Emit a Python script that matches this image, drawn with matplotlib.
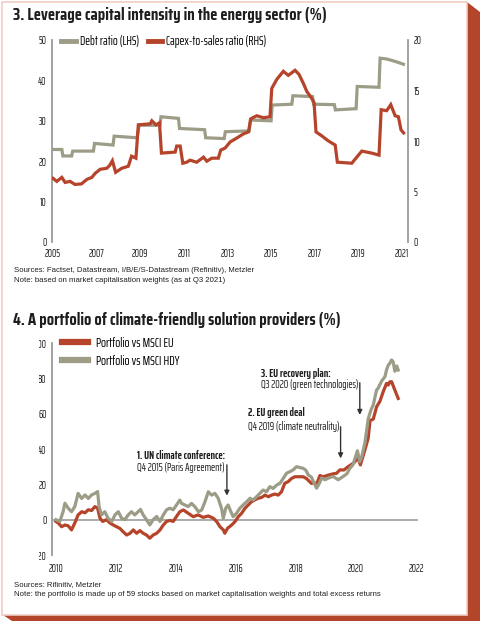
import matplotlib
matplotlib.use('Agg')
import matplotlib.pyplot as plt
from matplotlib.lines import Line2D
from matplotlib.patches import Polygon, Rectangle
from matplotlib.transforms import Bbox, TransformedBbox

# ---------------- data: chart 3 ----------------
debt_years = [2005.0, 2005.4, 2005.45, 2005.85, 2005.9, 2006.85, 2006.9, 2007.75, 2007.8, 2008.85,
              2008.95, 2009.9, 2009.95, 2010.75, 2010.8, 2011.95, 2012.0, 2012.85, 2012.9, 2014.0,
              2014.05, 2015.0, 2015.05, 2015.95, 2016.0, 2016.9, 2016.95, 2017.9, 2017.95, 2018.9,
              2018.95, 2019.95, 2020.0, 2020.3, 2020.5, 2020.75, 2021.07]
debt_ratio = [22.9, 22.9, 21.3, 21.3, 22.5, 22.5, 24.4, 24.0, 26.2, 25.8,
              28.9, 28.9, 31.0, 30.6, 28.1, 27.8, 25.8, 25.6, 27.3, 27.5,
              30.2, 30.0, 33.9, 34.1, 36.2, 36.0, 34.1, 34.0, 32.7, 33.0,
              38.5, 38.3, 45.5, 45.3, 45.0, 44.6, 44.0]

capex_years = [2005.0, 2005.17, 2005.4, 2005.55, 2005.78, 2006.0, 2006.3, 2006.55, 2006.78, 2006.93,
               2007.16, 2007.46, 2007.6, 2007.72, 2007.87, 2008.15, 2008.45, 2008.6, 2008.8, 2008.91,
               2009.45, 2009.53, 2009.72, 2009.88, 2009.97, 2010.6, 2010.67, 2010.83, 2010.95, 2011.13,
               2011.28, 2011.59, 2011.9, 2012.05, 2012.28, 2012.58, 2012.69, 2012.89, 2013.12, 2013.43,
               2013.73, 2013.96, 2014.07, 2014.34, 2014.65, 2014.95, 2015.03, 2015.26, 2015.56, 2015.79,
               2016.1, 2016.28, 2016.48, 2016.64, 2016.84, 2016.97, 2017.06, 2017.33, 2017.63, 2017.94,
               2018.04, 2018.7, 2018.93, 2019.16, 2019.62, 2019.95, 2020.05, 2020.3, 2020.49, 2020.69,
               2020.84, 2020.96, 2021.08]
capex_ratio = [6.3, 6.0, 6.4, 5.9, 6.0, 5.7, 5.75, 6.2, 6.4, 6.8,
               7.2, 7.3, 7.6, 8.05, 6.9, 7.3, 7.5, 8.5, 8.3, 11.6,
               11.7, 12.0, 11.6, 11.8, 8.8, 8.9, 9.5, 9.5, 7.8, 7.9,
               8.1, 7.9, 8.4, 8.0, 8.3, 8.3, 9.1, 9.3, 9.9, 10.3,
               10.7, 10.9, 12.2, 12.5, 12.3, 12.4, 15.2, 16.1, 16.9, 16.5,
               17.0, 16.6, 15.7, 14.9, 14.3, 13.8, 10.9, 10.5, 10.0, 9.6,
               7.9, 7.8, 8.4, 9.0, 8.8, 8.6, 13.1, 13.0, 13.6, 12.5,
               12.4, 11.1, 10.8]

x_ticks_top = [2005, 2007, 2009, 2011, 2013, 2015, 2017, 2019, 2021]
y_ticks_lhs = [0, 10, 20, 30, 40, 50]
y_ticks_rhs = [0, 5, 10, 15, 20]

# ---------------- data: chart 4 ----------------
hdy_years = [2010.00, 2010.13, 2010.24, 2010.30, 2010.41, 2010.52, 2010.63, 2010.74, 2010.86, 2010.97,
             2011.08, 2011.19, 2011.30, 2011.39, 2011.44, 2011.52, 2011.63, 2011.74, 2011.86, 2011.97,
             2012.08, 2012.19, 2012.30, 2012.41, 2012.52, 2012.63, 2012.74, 2012.82, 2012.91, 2013.02,
             2013.13, 2013.24, 2013.36, 2013.47, 2013.58, 2013.69, 2013.80, 2013.91, 2014.02, 2014.13,
             2014.19, 2014.30, 2014.41, 2014.52, 2014.63, 2014.75, 2014.86, 2014.97, 2015.08, 2015.19,
             2015.30, 2015.41, 2015.52, 2015.58, 2015.66, 2015.74, 2015.83, 2015.91, 2016.02, 2016.13,
             2016.24, 2016.36, 2016.47, 2016.58, 2016.69, 2016.80, 2016.91, 2017.02, 2017.13, 2017.24,
             2017.36, 2017.47, 2017.58, 2017.69, 2017.80, 2017.91, 2018.02, 2018.13, 2018.24, 2018.33,
             2018.41, 2018.52, 2018.60, 2018.69, 2018.78, 2018.86, 2018.97, 2019.08, 2019.24, 2019.41,
             2019.58, 2019.70, 2019.80, 2019.90, 2019.97, 2020.05, 2020.13, 2020.20, 2020.30, 2020.41,
             2020.50, 2020.58, 2020.69, 2020.74, 2020.86, 2020.97, 2021.02, 2021.08, 2021.13, 2021.19,
             2021.24, 2021.30, 2021.36, 2021.41]
hdy_values = [0, -1, 4.5, 9.3, 6.5, 4.5, 7.4, 14.9, 12, 14,
              12, 14, 14.9, 15.9, 7.4, 2.7, 4.5, 0.8, -1, 2.7,
              4.5, 0.8, 0, 2.7, 4.5, 2.7, 4.5, 5.8, 2.7, 0,
              -3, 0, 1.8, -1, 2.7, 5.6, 6.5, 5.6, 8.3, 11.1,
              9.2, 8.3, 7.4, 9.2, 7.4, 4.5, 5.5, 10.2, 15.8, 13.9,
              14.9, 12.1, 6.4, 0.8, 6.4, 8.3, 4.6, 1.7, 3.6, 6.4,
              8.3, 10.2, 12.1, 11.2, 13.0, 14.9, 16.8, 15.8, 18.7, 17.7,
              19.6, 20.6, 23.4, 26.3, 27.2, 28.2, 30.0, 29.5, 29.1, 28.0,
              25.4, 24.0, 21.0, 17.8, 20.5, 23.6, 22.6, 23.5, 24.5, 22.6,
              24.5, 26.0, 29.1, 31.0, 34.7, 39.0, 32.8, 36.0, 43.5, 57.0,
              62.0, 65.0, 73.4, 74.4, 78.5, 81.0, 84.7, 87.5, 88.5, 90.4,
              89.4, 84.0, 87.0, 84.7]

eu_years = [2010.00, 2010.08, 2010.19, 2010.30, 2010.41, 2010.52, 2010.63, 2010.74, 2010.86, 2010.97,
            2011.08, 2011.19, 2011.30, 2011.39, 2011.47, 2011.56, 2011.69, 2011.80, 2011.91, 2012.02,
            2012.13, 2012.24, 2012.36, 2012.47, 2012.58, 2012.69, 2012.80, 2012.91, 2013.02, 2013.13,
            2013.24, 2013.36, 2013.47, 2013.58, 2013.69, 2013.80, 2013.91, 2014.02, 2014.13, 2014.25,
            2014.41, 2014.58, 2014.74, 2014.91, 2015.08, 2015.25, 2015.36, 2015.47, 2015.58, 2015.63,
            2015.72, 2015.86, 2015.97, 2016.08, 2016.19, 2016.30, 2016.41, 2016.52, 2016.63, 2016.74,
            2016.86, 2016.97, 2017.08, 2017.19, 2017.30, 2017.41, 2017.52, 2017.63, 2017.74, 2017.86,
            2017.97, 2018.08, 2018.24, 2018.35, 2018.52, 2018.60, 2018.69, 2018.80, 2018.91, 2019.10,
            2019.25, 2019.35, 2019.47, 2019.60, 2019.74, 2019.91, 2020.08, 2020.15, 2020.30, 2020.41,
            2020.47, 2020.58, 2020.69, 2020.80, 2020.91, 2021.02, 2021.08, 2021.13, 2021.19, 2021.30,
            2021.41]
eu_values = [-1, -1.9, -4, -3, -3.5, -5.8, -1.9, 2.7, 4.5, 3.9,
             5.6, 5.2, 7.4, 6.5, 0.8, -1, 0, -1.9, -3, -4,
             -4.9, -6.8, -8.7, -7.7, -5.8, -7.7, -6.2, -7.7, -8.7, -10.5,
             -8.7, -7.7, -5.8, -3, -1, -0.4, -1, 1.8, 4.5, 5.5,
             3.6, 1.7, 2.7, 1.3, 2.1, 0.8, -1.1, -4, -5.8, -7.7,
             -4.9, -3, -1.1, 1.7, 3.6, 6.4, 8.3, 10.2, 11.2, 12.1,
             12.6, 13.9, 13.0, 13.9, 14.5, 13.9, 15.8, 20.6, 21.5, 23.4,
             24.3, 24.3, 24.3, 23.3, 20.5, 21.0, 20.1, 25.0, 24.3, 25.3,
             26.0, 26.2, 28.2, 28.1, 30.0, 31.9, 34.7, 31.0, 39.5, 46.1,
             56.0, 57.0, 63.9, 67.0, 72.4, 77.1, 76.2, 78.0, 78.1, 73.3,
             68.6]

x_ticks_bot = [2010, 2012, 2014, 2016, 2018, 2020, 2022]
y_ticks_bot = [-20, 0, 20, 40, 60, 80, 100]

# ---------------- styling ----------------
W, H = 480, 622
RED = '#b5442a'
GREY = '#9d9c87'
SPINE = '#9a9a9a'
TXT = '#1e1e1e'
COND = ['Saira Condensed', 'Liberation Sans Narrow', 'DejaVu Sans']
XCOND = ['Saira ExtraCondensed', 'Saira Condensed', 'DejaVu Sans']
PLAIN = ['Liberation Sans', 'DejaVu Sans']
TICK = 7.6


def fx(x):
    return x / W


def fy(y):
    return 1 - y / H


fig = plt.figure(figsize=(W / 100, H / 100), dpi=100)
fig.patch.set_facecolor('white')

# frame with a red "3D" shadow
shadow = Polygon([(fx(467), fy(2)), (fx(480), fy(12)), (fx(480), fy(621)),
                  (fx(12), fy(621)), (fx(3), fy(615))],
                 closed=True, transform=fig.transFigure, facecolor='#b3452b',
                 edgecolor='none', zorder=-3)
panel = Rectangle((fx(2), fy(615)), fx(465), 613 / H, transform=fig.transFigure,
                  facecolor='white', edgecolor='#f1cdc6', lw=1.2, zorder=-2)
fig.add_artist(shadow)
fig.add_artist(panel)

# ---------------- chart 3 ----------------
fig.text(fx(13), fy(15), '3. Leverage capital intensity in the energy sector (%)',
         family=COND, fontweight='bold', fontsize=12, color=TXT, va='center', ha='left')

ax1 = fig.add_axes([fx(52), fy(242), fx(356), 202 / H])
ax1.set_facecolor('none')
ax1.plot(debt_years, debt_ratio, color=GREY, lw=2.3, solid_joinstyle='miter')
ax1.set_xlim(2004.95, 2021.28)
ax1.set_ylim(0, 50)
ax1.set_xticks(x_ticks_top)
ax1.set_yticks(y_ticks_lhs)
for s in ['top', 'bottom', 'right']:
    ax1.spines[s].set_visible(False)
ax1.spines['left'].set_color(SPINE)
ax1.spines['left'].set_linewidth(1.3)
ax1.tick_params(axis='both', length=0, labelsize=TICK, colors=TXT)
ax1.tick_params(axis='y', pad=4)
ax1.tick_params(axis='x', pad=4)
for lab in ax1.get_xticklabels() + ax1.get_yticklabels():
    lab.set_family(XCOND)

ax2 = ax1.twinx()
ax2.plot(capex_years, capex_ratio, color=RED, lw=2.3, solid_joinstyle='miter')
ax2.set_ylim(0, 20)
ax2.set_yticks(y_ticks_rhs)
for s in ['top', 'bottom', 'left']:
    ax2.spines[s].set_visible(False)
ax2.spines['right'].set_color(SPINE)
ax2.spines['right'].set_linewidth(1.3)
ax2.tick_params(axis='y', length=0, labelsize=TICK, colors=TXT, pad=4)
for lab in ax2.get_yticklabels():
    lab.set_family(XCOND)

ax2.legend(handles=[Line2D([], [], color=GREY, lw=3.5), Line2D([], [], color=RED, lw=3.5)],
           labels=['Debt ratio (LHS)', 'Capex-to-sales ratio (RHS)'],
           loc='upper left', bbox_to_anchor=(fx(61), fy(35)), bbox_transform=fig.transFigure,
           ncol=2, frameon=False, handlelength=1.15, handletextpad=0.3, columnspacing=0.7,
           borderpad=0, borderaxespad=0, prop={'family': XCOND, 'size': 9.2})

fig.text(fx(14), fy(271), 'Sources: Factset, Datastream, I/B/E/S-Datastream (Refinitiv), Metzler',
         family=PLAIN, fontsize=5.6, color=TXT, va='center')
fig.text(fx(14), fy(280.5), 'Note: based on market capitalisation weights (as at Q3 2021)',
         family=PLAIN, fontsize=5.6, color=TXT, va='center')

# ---------------- chart 4 ----------------
fig.text(fx(13), fy(320), '4. A portfolio of climate-friendly solution providers (%)',
         family=COND, fontweight='bold', fontsize=12, color=TXT, va='center', ha='left')

ax3 = fig.add_axes([fx(52), fy(555), fx(366), 212 / H])
ax3.set_facecolor('none')
ax3.axhline(0, color='#aaaaaa', lw=1.4, zorder=1)
ax3.plot(eu_years, eu_values, color=RED, lw=2.3, zorder=2)
ax3.plot(hdy_years, hdy_values, color=GREY, lw=2.3, zorder=3)
ax3.set_xlim(2009.87, 2022.07)
ax3.set_ylim(-20, 100)
ax3.set_xticks(x_ticks_bot)
ax3.set_yticks(y_ticks_bot)
for s in ['top', 'bottom', 'right']:
    ax3.spines[s].set_visible(False)
ax3.spines['left'].set_color(SPINE)
ax3.spines['left'].set_linewidth(1.3)
ax3.tick_params(axis='both', length=0, labelsize=TICK, colors=TXT)
ax3.tick_params(axis='y', pad=4)
ax3.tick_params(axis='x', pad=6)
clip = TransformedBbox(Bbox([[fx(38.5), 0], [1, 1]]), fig.transFigure)
for lab in ax3.get_xticklabels():
    lab.set_family(XCOND)
for lab in ax3.get_yticklabels():
    lab.set_family(XCOND)
    lab.set_clip_on(True)
    lab.set_clip_box(clip)

ax3.legend(handles=[Line2D([], [], color=RED, lw=4.5), Line2D([], [], color=GREY, lw=4.5)],
           labels=['Portfolio vs MSCI EU', 'Portfolio vs MSCI HDY'],
           loc='upper left', bbox_to_anchor=(fx(62), fy(337)), bbox_transform=fig.transFigure,
           frameon=False, handlelength=2.0, handletextpad=0.6, labelspacing=0.35,
           borderpad=0, borderaxespad=0, prop={'family': XCOND, 'size': 9.5})

ann_kw = dict(arrowprops=dict(arrowstyle='-|>', color='#333333', lw=1.0, mutation_scale=7,
                              shrinkA=0, shrinkB=0))
ax3.annotate('', xy=(2015.7, 13.6), xytext=(2015.7, 31.0), **ann_kw)
ax3.annotate('', xy=(2019.49, 34.7), xytext=(2019.49, 52.6), **ann_kw)
ax3.annotate('', xy=(2020.13, 59.3), xytext=(2020.13, 77.5), **ann_kw)

notes = [
    (2012.7, 36.6, '1. UN climate conference:', 29.8, 'Q4 2015 (Paris Agreement)'),
    (2016.4, 60.4, '2. EU green deal', 52.5, 'Q4 2019 (climate neutrality)'),
    (2016.83, 83.0, '3. EU recovery plan:', 76.6, 'Q3 2020 (green technologies)'),
]
for xb, yb, tb, yn, tn in notes:
    ax3.text(xb, yb, tb, family=XCOND, fontweight='bold', fontsize=8.2, color=TXT,
             va='center', ha='left')
    ax3.text(xb, yn, tn, family=XCOND, fontsize=8.0, color=TXT, va='center', ha='left')

fig.text(fx(14), fy(585), 'Sources: Rifinitiv, Metzler',
         family=PLAIN, fontsize=5.6, color=TXT, va='center')
fig.text(fx(14), fy(595), 'Note: the portfolio is made up of 59 stocks based on market capitalisation '
         'weights and total excess returns', family=PLAIN, fontsize=5.6, color=TXT, va='center')

fig.savefig('out.png', dpi=100, facecolor='white')
